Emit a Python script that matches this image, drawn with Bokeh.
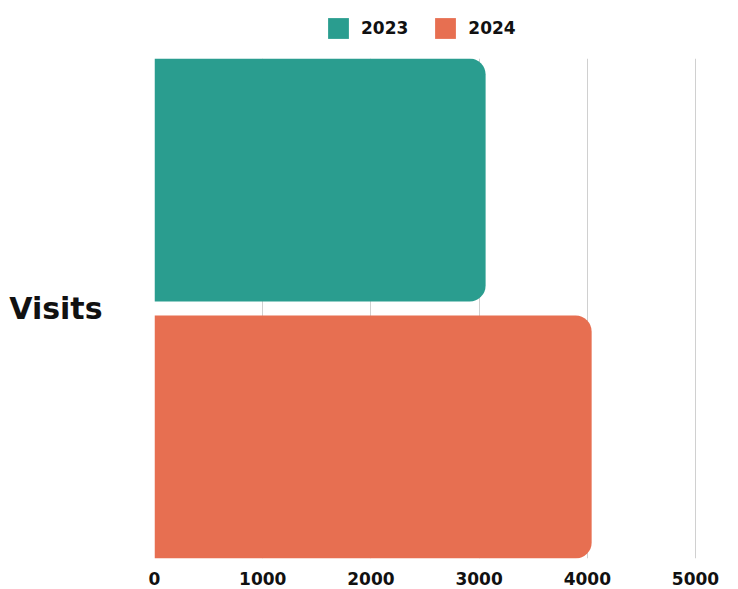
from bokeh.plotting import figure
from bokeh.layouts import column
from bokeh.models import ColumnDataSource, FactorRange, Range1d, Legend, LegendItem, FixedTicker
from bokeh.transform import dodge
from bokeh.embed import file_html
from bokeh.resources import INLINE

categories = ["Visits"]
series = ["2023", "2024"]
values_2023 = [3060]
values_2024 = [4040]
colors = ["#2a9d8f", "#e76f51"]
x_ticks = [0, 1000, 2000, 3000, 4000, 5000]

FONT = "DejaVu Sans"

src = ColumnDataSource(data=dict(cat=categories, v2023=values_2023, v2024=values_2024))

# ---- main chart ----
p = figure(frame_width=542, frame_height=500,
           y_range=FactorRange(factors=categories, range_padding=0),
           x_range=Range1d(0, 5009), output_backend="svg", toolbar_location=None,
           min_border_left=154, min_border_right=42, min_border_top=0, min_border_bottom=31)
p.outline_line_color = None

r1 = p.hbar(y=dodge("cat", 0.257, range=p.y_range), left=0, right="v2023", height=0.486,
            source=src, fill_color=colors[0], line_color=None, border_radius=(0, 16, 16, 0))
r2 = p.hbar(y=dodge("cat", -0.257, range=p.y_range), left=0, right="v2024", height=0.486,
            source=src, fill_color=colors[1], line_color=None, border_radius=(0, 16, 16, 0))

p.ygrid.grid_line_color = None
p.xgrid.grid_line_color = "#d0d0d0"
p.xgrid.ticker = FixedTicker(ticks=x_ticks[1:])

p.xaxis.ticker = FixedTicker(ticks=x_ticks)
p.xaxis.axis_line_color = None
p.xaxis.major_tick_line_color = None
p.xaxis.minor_tick_line_color = None
p.xaxis.major_label_text_font = FONT
p.xaxis.major_label_text_font_style = "bold"
p.xaxis.major_label_text_font_size = "17px"
p.xaxis.major_label_text_color = "#111111"
p.xaxis.major_label_standoff = 7

p.yaxis.axis_line_color = None
p.yaxis.major_tick_line_color = None
p.yaxis.minor_tick_line_color = None
p.yaxis.major_label_text_font = FONT
p.yaxis.major_label_text_font_style = "bold"
p.yaxis.major_label_text_font_size = "30px"
p.yaxis.major_label_text_color = "#111111"
p.yaxis.major_label_overrides = {categories[0]: categories[0] + "\n"}
p.yaxis.major_label_standoff = 46

# ---- legend strip above ----
lg = figure(width=738, height=58, output_backend="svg", toolbar_location=None,
            x_axis_location=None, y_axis_location=None,
            min_border_left=154, min_border_right=42, min_border_top=0, min_border_bottom=0,
            x_range=Range1d(0, 1), y_range=Range1d(0, 1))
lg.outline_line_color = None
lg.grid.visible = False
offscreen = dict(y=[-10], right=[1])
d1 = lg.hbar(y="y", right="right", left=0, height=1, source=ColumnDataSource(offscreen),
             fill_color=colors[0], line_color=None)
d2 = lg.hbar(y="y", right="right", left=0, height=1, source=ColumnDataSource(offscreen),
             fill_color=colors[1], line_color=None)
legend = Legend(items=[LegendItem(label=series[0], renderers=[d1]),
                       LegendItem(label=series[1], renderers=[d2])],
                orientation="horizontal", location=(171, 17),
                glyph_width=26, glyph_height=26, spacing=24, label_standoff=10,
                label_text_font=FONT, label_text_font_style="bold",
                label_text_font_size="17px", label_text_color="#111111",
                label_height=26,
                border_line_color=None, background_fill_alpha=0,
                margin=0, padding=0)
lg.add_layout(legend, "center")

layout = column(lg, p, spacing=0)
open("out.html", "w").write(file_html(layout, INLINE))
